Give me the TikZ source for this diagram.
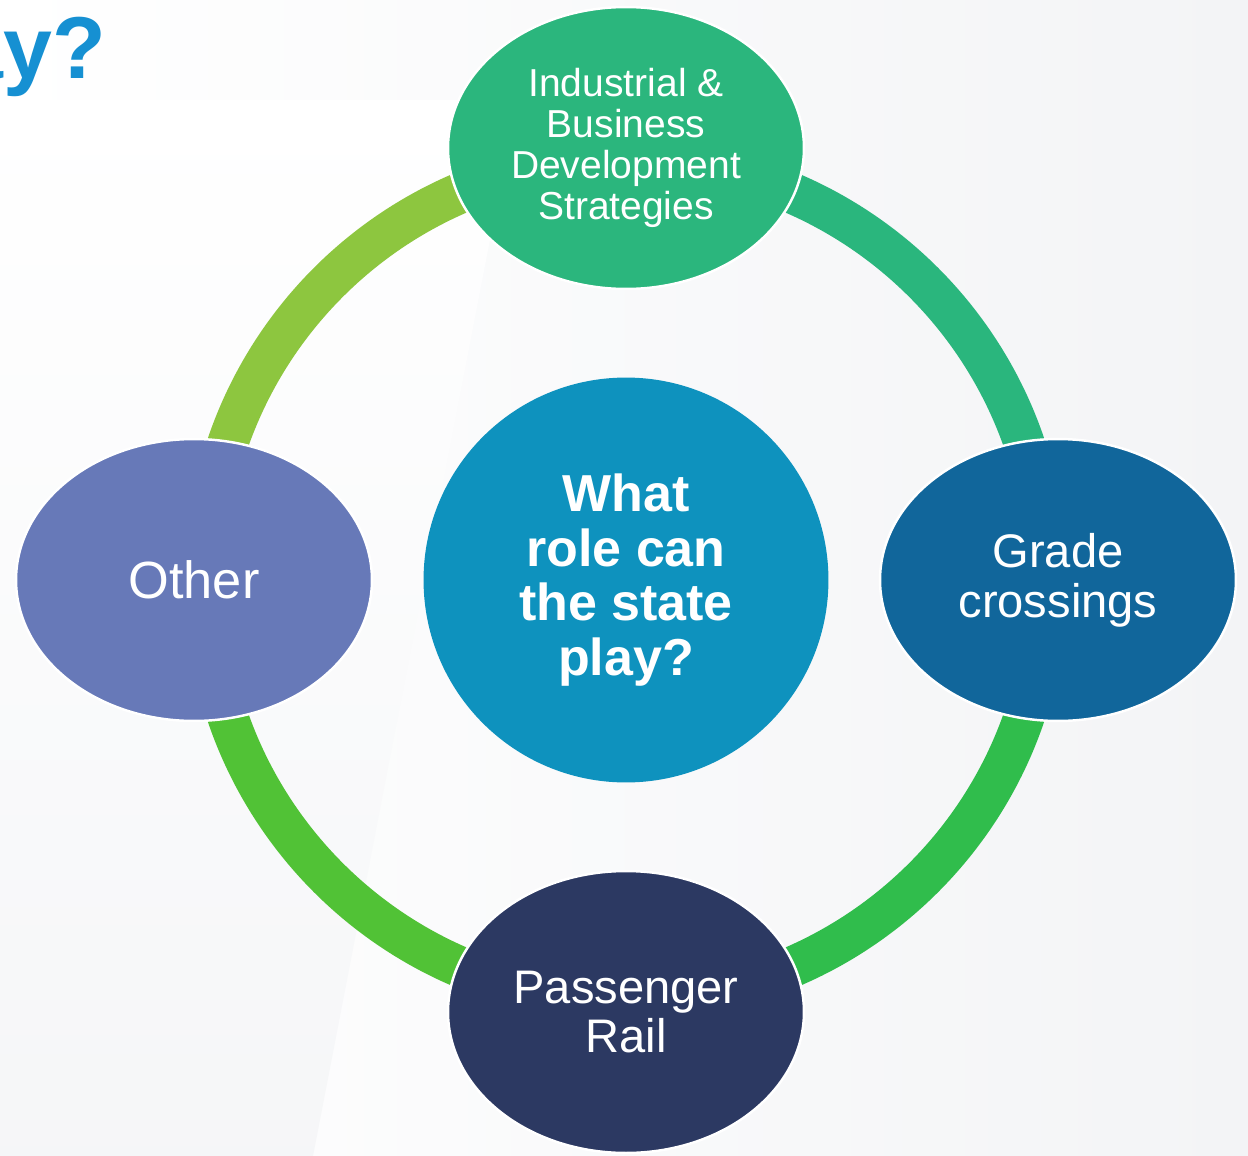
\documentclass[tikz,border=0pt]{standalone}
\usepackage{fontspec}
\setmainfont{Liberation Sans}
\usetikzlibrary{shapes.geometric}

\definecolor{titleblue}{HTML}{1690D2}
\definecolor{hubblue}{HTML}{0E92BE}
\definecolor{topgreen}{HTML}{2BB67D}
\definecolor{gradeblue}{HTML}{11669B}
\definecolor{railnavy}{HTML}{2C3962}
\definecolor{otherviolet}{HTML}{6779B8}
\definecolor{arcTR}{HTML}{2AB67D}
\definecolor{arcBR}{HTML}{30BD4C}
\definecolor{arcBL}{HTML}{51C236}
\definecolor{arcTL}{HTML}{8DC63F}
\definecolor{paperA}{HTML}{FFFFFF}
\definecolor{paperB}{HTML}{F3F4F6}

\pgfdeclarelayer{paper}
\pgfdeclarelayer{ring}
\pgfsetlayers{paper,ring,main}

\begin{document}
\begin{tikzpicture}[x=0.02cm,y=-0.02cm,
  bubble/.style={ellipse, draw=white, line width=1.4pt, text=white,
    minimum width=7.12cm, minimum height=5.64cm, inner sep=0pt, align=center},
  hubstyle/.style={circle, fill=hubblue, text=white, minimum size=8.1cm,
    inner sep=0pt, align=center, font=\bfseries\fontsize{29.6pt}{31.2pt}\selectfont},
  ringarc/.style={line width=0.82cm}]

\useasboundingbox (0,0) rectangle (1248,1156);

% page background
\begin{pgfonlayer}{paper}
  \begin{scope}
    \clip (0,0) rectangle (1248,1156);
    \shade[left color=paperA, right color=paperB] (0,0) rectangle (1248,1156);
    \shade[top color=white, bottom color=paperB!80!white]
      (0,100) -- (517,100) -- (313,1156) -- (0,1156) -- cycle;
    % heading fragment at the top left
    \node[anchor=base east, text=titleblue,
          font=\bfseries\fontsize{50pt}{52pt}\selectfont] (heading) at (112,78) {ay?};
  \end{scope}
\end{pgfonlayer}

% nodes
\node[hubstyle] (hub) at (626,580) {What\\role can\\the state\\play?};
\node[bubble, fill=topgreen, font=\fontsize{22.2pt}{23.2pt}\selectfont]
  (ind) at (626,148) {Industrial \&\\Business\\Development\\Strategies};
\node[bubble, fill=gradeblue, font=\fontsize{26.8pt}{28.3pt}\selectfont]
  (grade) at (1058,580) {Grade\\crossings};
\node[bubble, fill=railnavy, font=\fontsize{26.8pt}{27.8pt}\selectfont]
  (rail) at (626,1012) {Passenger\\Rail};
\node[bubble, fill=otherviolet, font=\fontsize{29.8pt}{31pt}\selectfont]
  (other) at (194,580) {Other};

% cycle ring: four quarter arcs around the hub, hidden under the bubbles at their ends
\begin{pgfonlayer}{ring}
  \draw[ringarc, arcTR] (hub.center) ++(90:8.42cm)  arc[start angle=90,  end angle=0,   radius=8.42cm];
  \draw[ringarc, arcBR] (hub.center) ++(0:8.42cm)   arc[start angle=0,   end angle=-90, radius=8.42cm];
  \draw[ringarc, arcBL] (hub.center) ++(270:8.42cm) arc[start angle=270, end angle=180, radius=8.42cm];
  \draw[ringarc, arcTL] (hub.center) ++(180:8.42cm) arc[start angle=180, end angle=90,  radius=8.42cm];
\end{pgfonlayer}

\end{tikzpicture}
\end{document}
